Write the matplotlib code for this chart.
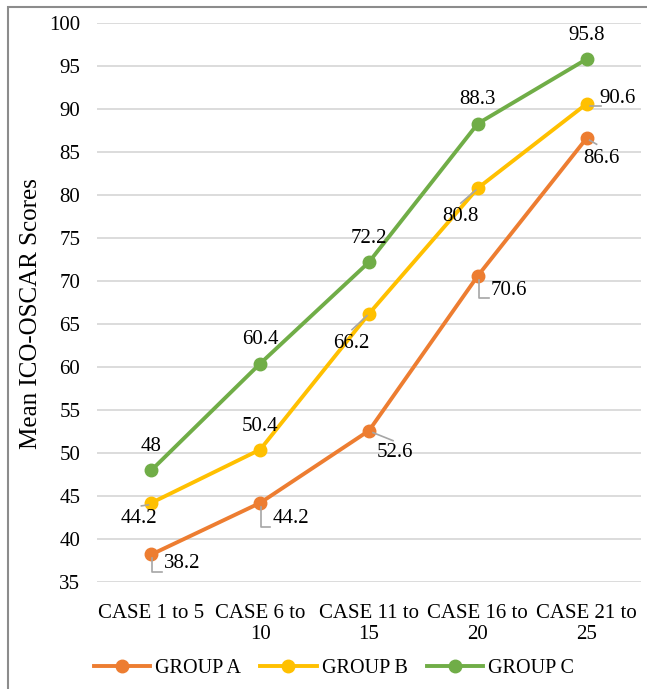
import matplotlib
matplotlib.use("Agg")
import matplotlib.pyplot as plt
from matplotlib.lines import Line2D
from matplotlib.patches import Rectangle

plt.rcParams['font.family'] = ['Liberation Serif', 'DejaVu Serif']

# Data
categories = ["CASE 1 to 5", "CASE 6 to\n10", "CASE 11 to\n15", "CASE 16 to\n20", "CASE 21 to\n25"]
group_a = [38.2, 44.2, 52.6, 70.6, 86.6]
group_b = [44.2, 50.4, 66.2, 80.8, 90.6]
group_c = [48, 60.4, 72.2, 88.3, 95.8]
series_names = ["GROUP A", "GROUP B", "GROUP C"]
colors = ["#ED7D31", "#FFC000", "#70AD47"]
y_ticks = list(range(35, 101, 5))

# Label placement: (text offset px, leader polyline offsets px, ha), y pointing down
label_a = [((13, 9), [(1, 4), (1, 18), (11, 18)], 'left'),
           ((12, 16), [(1, 4), (1, 24), (10, 24)], 'left'),
           ((26, 22), [(4, 2), (24, 10)], 'center'),
           ((13, 15), [(1, 4), (1, 22), (11, 22)], 'left'),
           ((15, 20), [(3, 2), (10, 6)], 'center')]
label_b = [((-12, 16), [(-3, 2), (-10, 3)], 'center'),
           ((0, -23), None, 'center'),
           ((-18, 30), [(-2, 2), (-17, 16)], 'center'),
           ((-17, 28), [(-2, 2), (-17, 15)], 'center'),
           ((31, -5), [(3, 2), (14, 2)], 'center')]
label_c = [((0, -24), None, 'center')] * 5

FS = 15
W, H, DPI = 647, 689, 100
fig = plt.figure(figsize=(W / DPI, H / DPI), dpi=DPI)
ax = fig.add_axes([97 / W, 1 - 582 / H, (641 - 97) / W, (582 - 23) / H])

# outer frame (left and top edges fall inside the canvas)
fig.patches.append(Rectangle((8 / W, -10 / H), (W + 20) / W, (H + 10 - 7) / H,
                             transform=fig.transFigure, fill=False,
                             edgecolor="#8C8C8C", linewidth=1.5, clip_on=False))

x = list(range(len(categories)))
ax.set_xlim(-0.5, len(categories) - 0.5)
ax.set_ylim(35, 100)
ax.set_yticks(y_ticks)
ax.set_xticks(x)
ax.set_xticklabels(categories, fontsize=FS, linespacing=1.15)
ax.tick_params(axis='both', length=0, labelsize=FS, colors='black')
ax.tick_params(axis='y', pad=12)
ax.tick_params(axis='x', pad=16)
for s in ax.spines.values():
    s.set_visible(False)
ax.yaxis.grid(True, color="#D9D9D9", linewidth=1.3)
ax.set_axisbelow(True)
ax.set_ylabel("Mean ICO-OSCAR Scores", fontsize=18)
ax.yaxis.set_label_coords(-0.101, 0.48)

series = [group_a, group_b, group_c]
for vals, name, col in zip(series, series_names, colors):
    ax.plot(x, vals, color=col, linewidth=2.8, marker='o', markersize=9,
            label=name, zorder=3)


def leader(xi, v, offs):
    px, py = ax.transData.transform((xi, v))
    pts = [ax.transData.inverted().transform((px + dx, py - dy)) for dx, dy in offs]
    ax.add_line(Line2D([p[0] for p in pts], [p[1] for p in pts],
                       color="#A6A6A6", linewidth=1.2, zorder=4))


for vals, specs in zip(series, [label_a, label_b, label_c]):
    for xi, v, ((tx, ty), offs, ha) in zip(x, vals, specs):
        txt = f"{v:g}"
        ax.annotate(txt, (xi, v), xytext=(tx, -ty), textcoords='offset pixels',
                    ha=ha, va='center', fontsize=FS, zorder=5)
        if offs:
            leader(xi, v, offs)

handles = [Line2D([], [], color=c, linewidth=2.8, marker='o', markersize=9)
           for c in colors]
fig.legend(handles, series_names, loc='center', bbox_to_anchor=(334 / W, 1 - 668 / H),
           ncol=3, frameon=False, fontsize=14.5, handlelength=2.8,
           handletextpad=0.25, columnspacing=0.95, borderpad=0)

fig.savefig("out.png", dpi=DPI)
